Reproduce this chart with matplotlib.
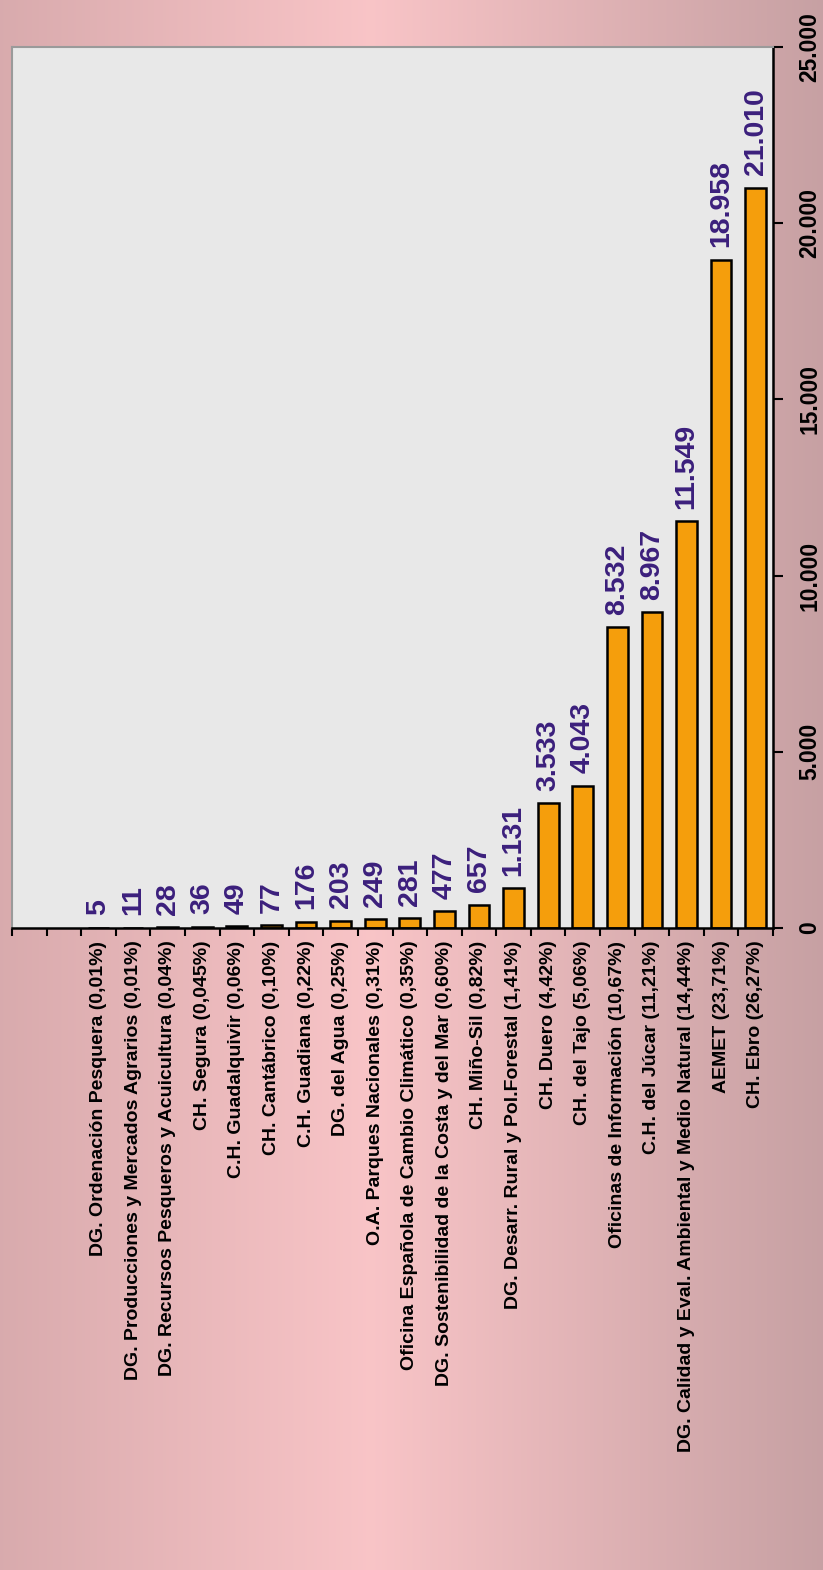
import numpy as np
import matplotlib.pyplot as plt
from matplotlib.ticker import FuncFormatter

plt.rcParams['font.family'] = ['Liberation Sans', 'DejaVu Sans']

# data
categorias = [
    "DG. Ordenación Pesquera (0,01%)",
    "DG. Producciones y Mercados Agrarios (0,01%)",
    "DG. Recursos Pesqueros y Acuicultura (0,04%)",
    "CH. Segura (0,045%)",
    "C.H. Guadalquivir (0,06%)",
    "CH. Cantábrico (0,10%)",
    "C.H. Guadiana (0,22%)",
    "DG. del Agua (0,25%)",
    "O.A. Parques Nacionales (0,31%)",
    "Oficina Española de Cambio Climático (0,35%)",
    "DG. Sostenibilidad de la Costa y del Mar (0,60%)",
    "CH. Miño-Sil (0,82%)",
    "DG. Desarr. Rural y Pol.Forestal (1,41%)",
    "CH. Duero (4,42%)",
    "CH. del Tajo (5,06%)",
    "Oficinas de Información (10,67%)",
    "C.H. del Júcar (11,21%)",
    "DG. Calidad y Eval. Ambiental y Medio Natural (14,44%)",
    "AEMET (23,71%)",
    "CH. Ebro (26,27%)",
]
valores = [5, 11, 28, 36, 49, 77, 176, 203, 249, 281, 477, 657,
           1131, 3533, 4043, 8532, 8967, 11549, 18958, 21010]
huecos = 2  # two empty slots at the start of the axis
yticks = [0, 5000, 10000, 15000, 20000, 25000]


def miles(v, pos=None):
    return f"{int(v):,}".replace(",", ".")


fig = plt.figure(figsize=(8.23, 15.70), dpi=100)

# pink gradient background
bg = fig.add_axes([0, 0, 1, 1], zorder=0)
xs = np.linspace(0, 1, 400)
left = np.array([0.85, 0.67, 0.68])
mid = np.array([0.975, 0.77, 0.78])
right = np.array([0.78, 0.63, 0.64])
w = np.clip(xs / 0.45, 0, 1)[:, None]
w2 = np.clip((xs - 0.45) / 0.55, 0, 1)[:, None]
col = np.where(xs[:, None] <= 0.45, left + (mid - left) * w, mid + (right - mid) * w2)
bg.imshow(col[None, :, :], aspect='auto', extent=[0, 1, 0, 1])
bg.axis('off')

ax = fig.add_axes([12 / 823, 1 - 928 / 1570, (773 - 12) / 823, (928 - 47) / 1570], zorder=1)
ax.set_facecolor('#e8e8e8')

pos = np.arange(len(valores)) + huecos
ax.bar(pos, valores, width=0.6, color='#f59e0c', edgecolor='black', linewidth=1.8, zorder=2)

for p, v in zip(pos, valores):
    ax.annotate(miles(v), (p, v), xytext=(0, 9), textcoords='offset points',
                rotation=90, ha='center', va='bottom', fontsize=20.5,
                fontweight='bold', color='#3b1f7c')

ax.set_xlim(-0.5, len(valores) + huecos - 0.5)
ax.set_ylim(0, 25000)

ax.set_xticks(pos)
ax.set_xticklabels(categorias, rotation=90, fontsize=14, fontweight='bold')
ax.set_xticks(np.arange(-0.5, len(valores) + huecos, 1), minor=True)
ax.tick_params(axis='x', which='major', length=0, pad=9)
ax.tick_params(axis='x', which='minor', length=6, width=1.5, direction='out')

ax.yaxis.tick_right()
ax.set_yticks(yticks)
ax.yaxis.set_major_formatter(FuncFormatter(miles))
ax.tick_params(axis='y', length=7, width=1.5, direction='out', pad=11)
for lab in ax.get_yticklabels():
    lab.set_rotation(90)
    lab.set_va('center')
    lab.set_fontsize(16.5)
    lab.set_fontweight('bold')

ax.spines['bottom'].set_linewidth(1.8)
ax.spines['right'].set_linewidth(1.8)
ax.spines['left'].set_color('#9a9a9a')
ax.spines['top'].set_color('#9a9a9a')
ax.spines['left'].set_linewidth(1.5)
ax.spines['top'].set_linewidth(1.5)

fig.savefig('out.png', dpi=100)
